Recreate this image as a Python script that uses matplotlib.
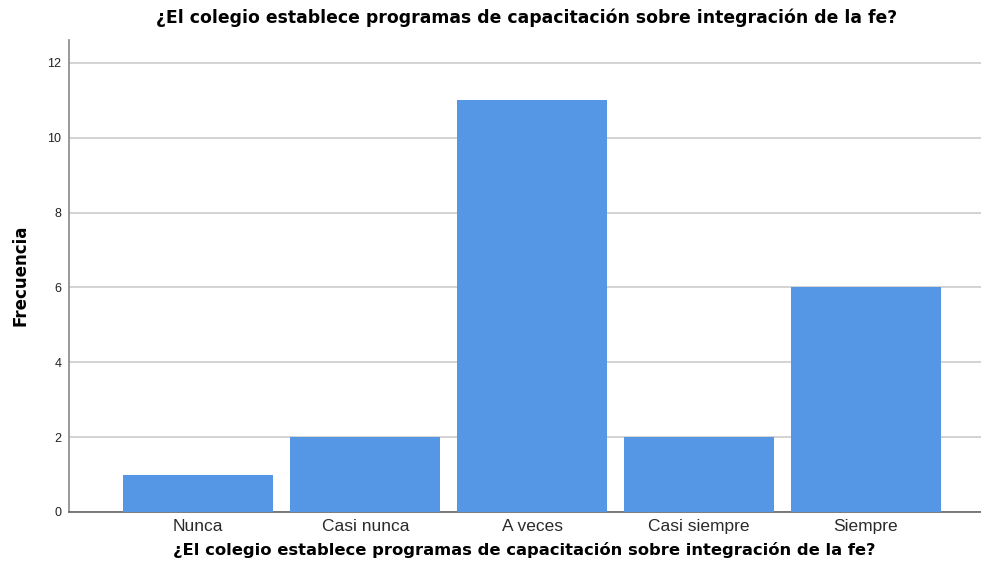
import matplotlib
matplotlib.use("Agg")
import matplotlib.pyplot as plt

categories = ["Nunca", "Casi nunca", "A veces", "Casi siempre", "Siempre"]
frecuencia = [1, 2, 11, 2, 6]
yticks = [0, 2, 4, 6, 8, 10, 12]
title = "¿El colegio establece programas de capacitación sobre integración de la fe?"

plt.rcParams['font.family'] = ['Liberation Sans', 'DejaVu Sans']

W, H = 981, 579
fig = plt.figure(figsize=(W / 100, H / 100), dpi=100)
ax = fig.add_axes([68.5 / W, 1 - 512 / H, 1 - 68.5 / W, (512 - 40) / H])

x = list(range(len(categories)))
ax.bar(x, frecuencia, width=0.898, color="#5596E5", zorder=3)

ax.set_xlim(-0.778, 4.689)
ax.set_ylim(0, 12.61)
ax.set_yticks(yticks)
ax.set_yticklabels([str(v) for v in yticks], fontsize=9, color="#222222")
ax.set_xticks(x)
ax.set_xticklabels(categories, fontsize=12.5, color="#2a2a2a")
ax.tick_params(axis='x', length=0, pad=5)
ax.tick_params(axis='y', length=0, pad=5)

ax.grid(axis='y', color="#d0d0d0", linewidth=1.3, zorder=0)
for s in ["top", "right"]:
    ax.spines[s].set_visible(False)
ax.spines["left"].set_color("#888888")
ax.spines["bottom"].set_color("#666666")
ax.spines["left"].set_linewidth(1.2)
ax.spines["bottom"].set_linewidth(1.2)

bold_fam = ['DejaVu Sans']
fig.text(527 / W, 1 - 18 / H, title, ha="center", va="center",
         fontsize=12.4, fontweight="bold", family=bold_fam)
fig.text(524 / W, 1 - 550 / H, title, ha="center", va="center",
         fontsize=11.75, fontweight="bold", family=bold_fam)
fig.text(21 / W, 1 - 275 / H, "Frecuencia", ha="center", va="center",
         rotation=90, fontsize=12, fontweight="bold", family=bold_fam)

fig.savefig("out.png", dpi=100, facecolor="white")
